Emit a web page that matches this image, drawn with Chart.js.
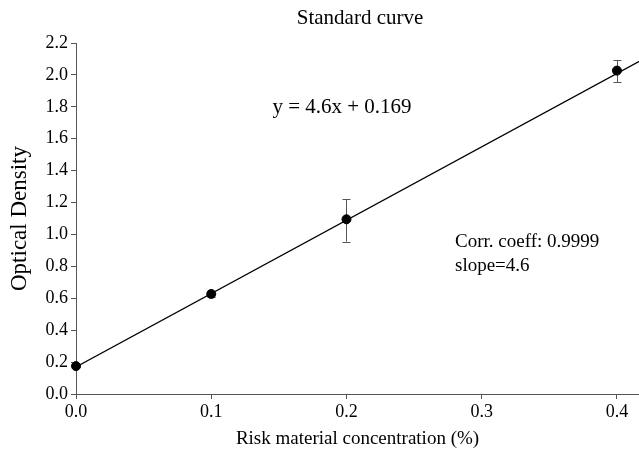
<!DOCTYPE html>
<html>
<head>
<meta charset="utf-8">
<script src="https://cdn.jsdelivr.net/npm/chart.js@4.4.1/dist/chart.umd.min.js"></script>
<style>
  html, body { margin: 0; padding: 0; background: #ffffff; }
  #wrap { width: 639px; height: 454px; }
</style>
</head>
<body>
<div id="wrap"><canvas id="c" width="639" height="454"></canvas></div>
<script>
// Data
const concentrations = [0.0, 0.1, 0.2, 0.4];
const densities = [0.175, 0.627, 1.095, 2.027];
const errLow = [0.170, 0.610, 0.955, 1.956];
const errHigh = [0.181, 0.645, 1.222, 2.094];
const fitLineX = [0.0, 0.42];
const fitLineY = [0.169, 2.101];
const xTickValues = [0.0, 0.1, 0.2, 0.3, 0.4];
const chartTitle = 'Standard curve';
const equationText = 'y = 4.6x + 0.169';
const statsLines = ['Corr. coeff: 0.9999', 'slope=4.6'];

const SERIF = '"Liberation Serif", "Times New Roman", serif';

const annotations = {
  id: 'annotations',
  beforeDatasetsDraw(chart) {
    const ctx = chart.ctx;
    const xs = chart.scales.x, ys = chart.scales.y;
    ctx.save();
    // error bars (drawn beneath the markers)
    ctx.strokeStyle = '#555555';
    ctx.lineWidth = 1;
    for (let i = 0; i < concentrations.length; i++) {
      const px = Math.round(xs.getPixelForValue(concentrations[i])) + 0.5;
      const pLo = ys.getPixelForValue(errLow[i]);
      const pHi = ys.getPixelForValue(errHigh[i]);
      ctx.beginPath();
      ctx.moveTo(px, pLo); ctx.lineTo(px, pHi);
      ctx.moveTo(px - 4, Math.round(pLo) + 0.5); ctx.lineTo(px + 4, Math.round(pLo) + 0.5);
      ctx.moveTo(px - 4, Math.round(pHi) + 0.5); ctx.lineTo(px + 4, Math.round(pHi) + 0.5);
      ctx.stroke();
    }
    ctx.restore();
  },
  afterDatasetsDraw(chart) {
    const ctx = chart.ctx;
    ctx.save();
    ctx.fillStyle = '#000000';
    ctx.textBaseline = 'middle';
    ctx.font = '21px ' + SERIF;
    ctx.textAlign = 'center';
    ctx.fillText(chartTitle, 360, 18);
    ctx.font = '21px ' + SERIF;
    ctx.fillText(equationText, 342, 107);
    ctx.font = '19px ' + SERIF;
    ctx.textAlign = 'left';
    ctx.fillText(statsLines[0], 455, 242);
    ctx.fillText(statsLines[1], 455, 266);
    ctx.restore();
  }
};

new Chart(document.getElementById('c'), {
  type: 'scatter',
  data: {
    datasets: [
      {
        label: 'fit',
        data: fitLineX.map((x, i) => ({ x: x, y: fitLineY[i] })),
        showLine: true,
        borderColor: '#000000',
        borderWidth: 1.2,
        pointRadius: 0,
        fill: false,
        order: 2
      },
      {
        label: 'data',
        data: concentrations.map((x, i) => ({ x: x, y: densities[i] })),
        backgroundColor: '#000000',
        borderColor: '#000000',
        pointRadius: 4.5,
        pointHoverRadius: 4.5,
        clip: false,
        order: 1
      }
    ]
  },
  plugins: [annotations],
  options: {
    responsive: false,
    animation: false,
    devicePixelRatio: 1,
    layout: { autoPadding: false, padding: { left: 0, right: 0, top: 43, bottom: 0 } },
    plugins: {
      legend: { display: false },
      tooltip: { enabled: false },
      title: { display: false }
    },
    scales: {
      x: {
        type: 'linear',
        min: 0,
        max: 0.4163,
        afterBuildTicks(scale) { scale.ticks = xTickValues.map(v => ({ value: v })); },
        afterFit(scale) { scale.height = 60; scale.paddingRight = 0; },
        border: { display: true, color: '#555555', width: 1 },
        grid: { drawOnChartArea: false, drawTicks: true, tickLength: 5, color: '#555555' },
        ticks: {
          color: '#000000',
          font: { family: SERIF, size: 18 },
          padding: 2,
          maxRotation: 0,
          callback: v => Number(v).toFixed(1)
        },
        title: {
          display: true,
          text: 'Risk material concentration (%)',
          color: '#000000',
          font: { family: SERIF, size: 19 },
          padding: { top: 0, bottom: 4 }
        }
      },
      y: {
        type: 'linear',
        min: 0,
        max: 2.2,
        afterFit(scale) { scale.width = 76; },
        border: { display: true, color: '#555555', width: 1 },
        grid: { drawOnChartArea: false, drawTicks: true, tickLength: 5, color: '#555555' },
        ticks: {
          stepSize: 0.2,
          color: '#000000',
          font: { family: SERIF, size: 18 },
          padding: 3,
          callback: v => Number(v).toFixed(1)
        },
        title: {
          display: true,
          text: 'Optical Density',
          color: '#000000',
          font: { family: SERIF, size: 23 },
          padding: { top: 6, bottom: 0 }
        }
      }
    }
  }
});
</script>
</body>
</html>
